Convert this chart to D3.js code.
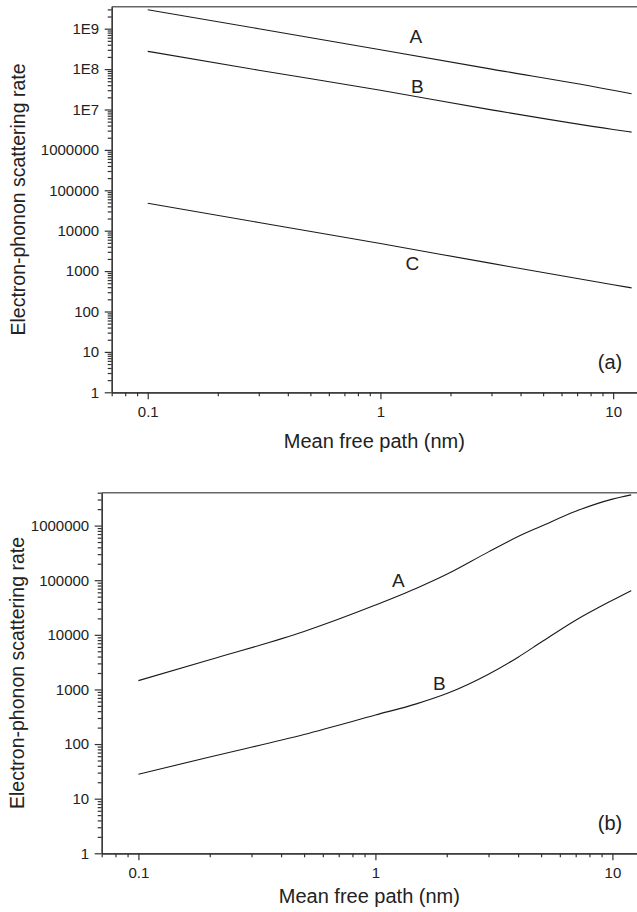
<!DOCTYPE html>
<html>
<head>
<meta charset="utf-8">
<script src="https://cdn.jsdelivr.net/npm/d3@7"></script>
<style>
  body { margin: 0; background: #fff; }
  svg { display: block; font-family: "Liberation Sans", Arial, sans-serif; }
</style>
</head>
<body>
<div id="chart"></div>
<script>
// panel (a): straight lines on log-log axes
const pathA = [0.1, 0.3, 1, 3, 10, 12];
const rateA_a = [2.95e9, 1.0e9, 3.0e8, 1.0e8, 3.0e7, 2.45e7];
const rateB_a = [2.75e8, 9.4e7, 3.0e7, 9.8e6, 3.2e6, 2.75e6];
const rateC_a = [4.8e4, 1.6e4, 4.8e3, 1.55e3, 460, 385];

// panel (b)
const pathB = [0.1, 0.2, 0.5, 1, 1.5, 2, 3, 4, 5, 7, 10, 12];
const rateA_b = [1450, 3500, 11500, 35000, 72000, 128000, 330000, 630000, 970000, 1830000, 3050000, 3650000];
const rateB_b = [28, 58, 150, 340, 550, 840, 1900, 3900, 7300, 18500, 43000, 64500];

// tick labels
const xTicks = [0.1, 1, 10];
const xTickLabels = ["0.1", "1", "10"];
const xMinor = [0.07, 0.08, 0.09, 0.2, 0.3, 0.4, 0.5, 0.6, 0.7, 0.8, 0.9, 2, 3, 4, 5, 6, 7, 8, 9];
const yTicksA = [1, 10, 100, 1000, 1e4, 1e5, 1e6, 1e7, 1e8, 1e9];
const yTickLabelsA = ["1", "10", "100", "1000", "10000", "100000", "1000000", "1E7", "1E8", "1E9"];
const yTicksB = [1, 10, 100, 1000, 1e4, 1e5, 1e6];
const yTickLabelsB = ["1", "10", "100", "1000", "10000", "100000", "1000000"];

const width = 637, height = 912;

const svg = d3.select("#chart")
  .append("svg")
    .attr("width", width)
    .attr("height", height);

// 2..9 × 10^n between lo and hi
function minorTicks(lo, hi) {
  const out = [];
  for (let e = Math.floor(Math.log10(lo)); e <= Math.ceil(Math.log10(hi)); e++) {
    for (let k = 2; k <= 9; k++) {
      const v = k * Math.pow(10, e);
      if (v >= lo && v <= hi) out.push(v);
    }
  }
  return out;
}

function drawPanel(p) {
  const x = d3.scaleLog()
    .domain([0.07, 14])
    .range([p.left, p.left + p.decade * Math.log10(14 / 0.07)]);

  const y = d3.scaleLog()
    .domain([1, p.yMax])
    .range([p.bottom, p.top]);

  const g = svg.append("g");

  // top frame line
  g.append("line")
    .attr("x1", p.left).attr("x2", width + 10)
    .attr("y1", p.top).attr("y2", p.top)
    .attr("stroke", "#666")
    .attr("stroke-width", 1.4);

  // x axis: minor then major
  g.append("g")
    .attr("transform", `translate(0, ${p.bottom})`)
    .call(d3.axisBottom(x).tickValues(xMinor).tickFormat("").tickSize(4).tickSizeOuter(0));

  g.append("g")
    .attr("class", "x-axis")
    .attr("transform", `translate(0, ${p.bottom})`)
    .call(d3.axisBottom(x)
      .tickValues(xTicks)
      .tickFormat((d, i) => xTickLabels[i])
      .tickSize(7)
      .tickSizeOuter(0)
      .tickPadding(7.5));

  // y axis
  g.append("g")
    .attr("transform", `translate(${p.left}, 0)`)
    .call(d3.axisLeft(y).tickValues(minorTicks(1, p.yMax)).tickFormat("").tickSize(4).tickSizeOuter(0));

  g.append("g")
    .attr("class", "y-axis")
    .attr("transform", `translate(${p.left}, 0)`)
    .call(d3.axisLeft(y)
      .tickValues(p.yTicks)
      .tickFormat((d, i) => p.yLabels[i])
      .tickSize(7)
      .tickSizeOuter(0)
      .tickPadding(5.5));

  g.selectAll(".domain, .tick line")
    .attr("stroke", "#333")
    .attr("stroke-width", 1.2);

  g.selectAll(".tick text")
    .attr("font-size", "15px")
    .attr("fill", "#222")
    .attr("font-family", "Liberation Sans, Arial, sans-serif");

  // curves
  const line = d3.line()
    .x(d => x(d[0]))
    .y(d => y(d[1]))
    .curve(d3.curveMonotoneX);

  p.series.forEach((s) => {
    g.append("path")
      .datum(p.xs.map((v, i) => [v, s.values[i]]))
      .attr("fill", "none")
      .attr("stroke", "#1a1a1a")
      .attr("stroke-width", 1.1)
      .attr("d", line);

    g.append("text")
      .attr("x", x(s.labelAt[0]))
      .attr("y", y(s.labelAt[1]))
      .attr("text-anchor", "middle")
      .attr("font-size", "19px")
      .attr("fill", "#222")
      .text(s.name);
  });

  // axis titles
  g.append("text")
    .attr("x", (p.left + width) / 2)
    .attr("y", p.bottom + p.xTitleGap)
    .attr("text-anchor", "middle")
    .attr("font-size", "20px")
    .attr("fill", "#222")
    .text("Mean free path (nm)");

  g.append("text")
    .attr("x", -(p.top + p.bottom) / 2)
    .attr("y", p.yTitleX)
    .attr("transform", "rotate(-90)")
    .attr("text-anchor", "middle")
    .attr("font-size", "19.5px")
    .attr("fill", "#222")
    .text("Electron-phonon scattering rate");

  g.append("text")
    .attr("x", 610)
    .attr("y", p.bottom - 23)
    .attr("text-anchor", "middle")
    .attr("font-size", "20px")
    .attr("fill", "#222")
    .text(p.tag);
}

drawPanel({
  left: 111.7, top: 6.7, bottom: 392.3, decade: 232.7, yMax: 3.5e9,
  yTicks: yTicksA, yLabels: yTickLabelsA, xs: pathA,
  xTitleGap: 56, yTitleX: 25, tag: "(a)",
  series: [
    { name: "A", values: rateA_a, labelAt: [1.42, 4.4e8] },
    { name: "B", values: rateB_a, labelAt: [1.44, 2.55e7] },
    { name: "C", values: rateC_a, labelAt: [1.37, 1070] }
  ]
});

drawPanel({
  left: 101.7, top: 492.7, bottom: 853.3, decade: 237, yMax: 4e6,
  yTicks: yTicksB, yLabels: yTickLabelsB, xs: pathB,
  xTitleGap: 50, yTitleX: 23.5, tag: "(b)",
  series: [
    { name: "A", values: rateA_b, labelAt: [1.25, 7.45e4] },
    { name: "B", values: rateB_b, labelAt: [1.86, 980] }
  ]
});
</script>
</body>
</html>
